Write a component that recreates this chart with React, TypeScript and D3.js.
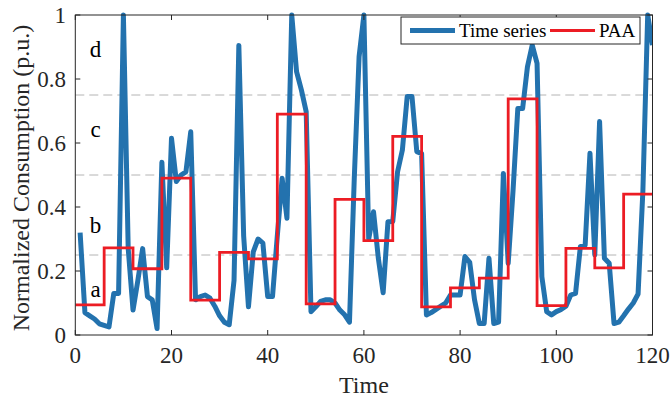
import React from "react";
import * as d3 from "d3";

const seriesValues: number[] = [
  0.32, 0.07, 0.06, 0.05, 0.035, 0.03, 0.025, 0.13, 0.13, 1.0,
  0.27, 0.078, 0.17, 0.27, 0.12, 0.11, 0.02, 0.54, 0.21, 0.615,
  0.48, 0.5, 0.51, 0.635, 0.11, 0.12, 0.125, 0.115, 0.09, 0.06,
  0.04, 0.032, 0.17, 0.905, 0.31, 0.088, 0.26, 0.3, 0.287, 0.12,
  0.12, 0.31, 0.49, 0.365, 1.0, 0.823, 0.766, 0.698, 0.073, 0.088,
  0.105, 0.11, 0.11, 0.1, 0.078, 0.063, 0.04, 0.49, 0.87, 1.0,
  0.3, 0.385, 0.24, 0.132, 0.354, 0.355, 0.51, 0.578, 0.745, 0.745,
  0.573, 0.567, 0.0625, 0.07, 0.08, 0.09, 0.1, 0.125, 0.125, 0.125,
  0.245, 0.227, 0.11, 0.036, 0.036, 0.24, 0.036, 0.04, 0.505, 0.224,
  0.45, 0.708, 0.708, 0.838, 0.906, 0.849, 0.182, 0.073, 0.063, 0.073,
  0.08, 0.09, 0.125, 0.13, 0.276, 0.281, 0.568, 0.25, 0.667, 0.24,
  0.224, 0.036, 0.04, 0.06, 0.081, 0.1, 0.128, 0.45, 1.0, 0.906,
];
const timeIndex: number[] = seriesValues.map((_, i) => i + 1);

const paaValues: number[] = [
  0.094, 0.272, 0.207, 0.49, 0.109, 0.258, 0.238, 0.69, 0.097, 0.424,
  0.295, 0.621, 0.088, 0.147, 0.178, 0.738, 0.092, 0.271, 0.21, 0.44,
];
const paaSegment = 6;

const breakpoints: number[] = [0.25, 0.5, 0.75];
const symbolLetters: string[] = ["a", "b", "c", "d"];
const symbolY: number[] = [0.14, 0.34, 0.64, 0.89];
const symbolX = 4.2;

const xTicks: number[] = [0, 20, 40, 60, 80, 100, 120];
const yTicks: number[] = [0, 0.2, 0.4, 0.6, 0.8, 1];

const W = 670, H = 399;
const left = 75.3, right = 652.5, top = 15, bottom = 335;
const BLUE = "#2372ae";
const RED = "#ec1c24";
const FONT = "Liberation Serif";

export default function App() {
  const x = d3.scaleLinear().domain([0, 120]).range([left, right]);
  const y = d3.scaleLinear().domain([0, 1]).range([bottom, top]);

  const seriesLine = d3
    .line<number>()
    .x((_, i) => x(timeIndex[i]))
    .y((d) => y(d));

  const paaPts: [number, number][] = [];
  paaValues.forEach((v, i) => {
    paaPts.push([i * paaSegment, v]);
    paaPts.push([(i + 1) * paaSegment, v]);
  });
  const paaLine = d3
    .line<[number, number]>()
    .x((d) => x(d[0]))
    .y((d) => y(d[1]));

  const tl = 5;
  const txt = { fontFamily: FONT };
  return (
    <svg width={W} height={H} style={{ position: "absolute", left: 0, top: 0 }}>
      <rect width={W} height={H} fill="#fff" />
      <defs>
        <clipPath id="plotclip">
          <rect x={left} y={top - 3} width={right - left} height={bottom - top + 6} />
        </clipPath>
      </defs>
      {breakpoints.map((b) => (
        <line key={b} x1={left} x2={right} y1={y(b)} y2={y(b)} stroke="#b4b4b4" strokeWidth={1} strokeDasharray="9,5" />
      ))}
      {symbolLetters.map((s, i) => (
        <text key={s} x={x(symbolX)} y={y(symbolY[i])} dy="0.3em" textAnchor="middle" style={txt} fontSize={23} fill="#000">
          {s}
        </text>
      ))}
      <g clipPath="url(#plotclip)">
        <path d={seriesLine(seriesValues) || ""} fill="none" stroke={BLUE} strokeWidth={5} strokeLinejoin="round" />
        <path d={paaLine(paaPts) || ""} fill="none" stroke={RED} strokeWidth={2.8} />
      </g>
      <rect x={left} y={top} width={right - left} height={bottom - top} fill="none" stroke="#262626" strokeWidth={1} />
      {xTicks.map((t) => (
        <g key={"x" + t}>
          <line x1={x(t)} x2={x(t)} y1={bottom} y2={bottom - tl} stroke="#262626" />
          <line x1={x(t)} x2={x(t)} y1={top} y2={top + tl} stroke="#262626" />
          <text x={x(t)} y={363} textAnchor="middle" style={txt} fontSize={23} fill="#262626">
            {t}
          </text>
        </g>
      ))}
      {yTicks.map((t) => (
        <g key={"y" + t}>
          <line x1={left} x2={left + tl} y1={y(t)} y2={y(t)} stroke="#262626" />
          <line x1={right} x2={right - tl} y1={y(t)} y2={y(t)} stroke="#262626" />
          <text x={66} y={y(t)} dy="0.33em" textAnchor="end" style={txt} fontSize={23} fill="#262626">
            {d3.format("~g")(t)}
          </text>
        </g>
      ))}
      <text x={(left + right) / 2} y={393} textAnchor="middle" style={txt} fontSize={24} fill="#262626">
        Time
      </text>
      <text transform={`translate(29,178) rotate(-90)`} textAnchor="middle" style={txt} fontSize={24} fill="#262626">
        Normalized Consumption (p.u.)
      </text>
      <g>
        <rect x={401} y={17} width={239} height={27} fill="#fff" stroke="#262626" strokeWidth={1} />
        <line x1={410} x2={455} y1={30.5} y2={30.5} stroke={BLUE} strokeWidth={5} />
        <text x={459} y={30.5} dy="0.33em" style={txt} fontSize={19} fill="#000">Time series</text>
        <line x1={550} x2={595} y1={30.5} y2={30.5} stroke={RED} strokeWidth={2.8} />
        <text x={599} y={30.5} dy="0.33em" style={txt} fontSize={19} fill="#000">PAA</text>
      </g>
    </svg>
  );
}
